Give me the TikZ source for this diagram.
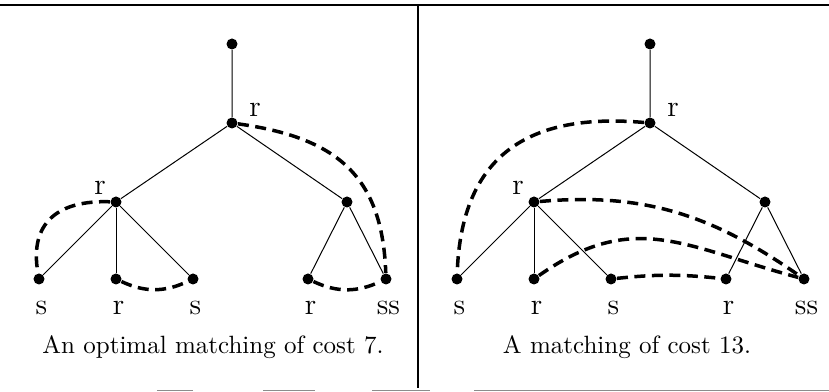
\documentclass[tikz,border=0pt]{standalone}
\begin{document}
\begin{tikzpicture}[x=0.4pt,y=0.4pt,line width=0.4pt,
  dot/.style={circle,fill,inner sep=0pt,minimum size=4.4pt},
  pairing/.style={line width=1.4pt,dash pattern=on 4.4pt off 2.6pt},
  lbl/.style={font=\large,inner sep=0pt}]
  \useasboundingbox (0,0) rectangle (829,392);
  \draw[line width=0.6pt] (0,387) -- (829,387);
  \draw[line width=0.45pt] (418,387) -- (418,4);
  \foreach \a/\b in {157/193,263/315,372/430,474/829}
    \draw[black!45] (\a,1) -- (\b,1);
  \foreach \p/\dx in {a/0,b/418}{
    \node[dot] (\p top) at (\dx+232,348) {};
    \node[dot] (\p root) at (\dx+232,269) {};
    \node[dot] (\p mid1) at (\dx+116,190) {};
    \node[dot] (\p mid2) at (\dx+347,190) {};
    \foreach \i/\x/\t in {1/39/s,2/116/r,3/193/s,4/308/r,5/386/ss}{
      \node[dot] (\p\i) at (\dx+\x,113) {};
      \node[lbl,anchor=base] (\p lab\i) at ([xshift=1pt,yshift=-14.4pt]\p\i) {\t};}
    \node[lbl] (\p rr) at (\dx+255,282) {r};
    \node[lbl] (\p rm) at (\dx+100,204) {r};
    \draw (\p top) -- (\p root) -- (\p mid1) -- (\p 1);
    \draw (\p root) -- (\p mid2) -- (\p 4);
    \draw (\p mid1) -- (\p 2);
    \draw (\p mid1) -- (\p 3);
    \draw (\p mid2) -- (\p 5);}
  \node (acap) at (213,45) {An optimal matching of cost 7.};
  \node (bcap) at (627,45) {A matching of cost 13.};
  \draw[pairing] (aroot) to[out=-8,in=92,looseness=1.2] (a5);
  \draw[pairing] (amid1) to[out=178,in=100,looseness=1.3] (a1);
  \draw[pairing] (a2) to[out=-25,in=-155] (a3);
  \draw[pairing] (a4) to[out=-25,in=-155] (a5);
  \draw[pairing] (broot) to[out=175,in=88,looseness=1.25] (b1);
  \draw[pairing] (bmid1) to[out=5,in=145] (b5);
  \draw[pairing] (b2) to[out=35,in=165,looseness=1.15] (b5);
  \draw[pairing] (b3) to[out=6,in=174] (b4);
\end{tikzpicture}
\end{document}
